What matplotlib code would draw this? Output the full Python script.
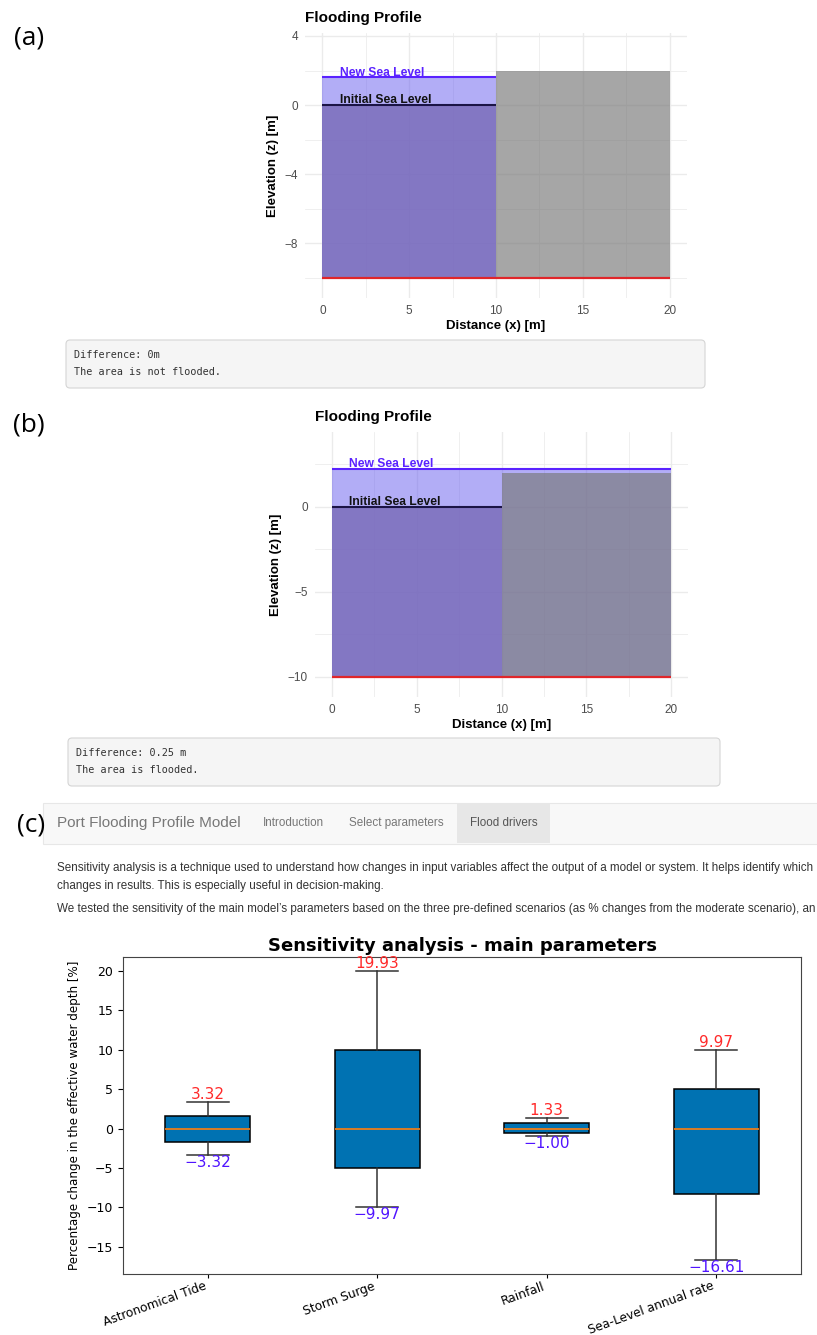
import matplotlib
matplotlib.use("Agg")
import matplotlib.pyplot as plt
from matplotlib.patches import Rectangle, FancyBboxPatch
from matplotlib.ticker import MultipleLocator

W, H = 817, 1335

# ---- Flooding profile geometry (m) ----
bed_level = -10.0
initial_sea_level = 0.0
quay_start, quay_end = 10.0, 20.0
quay_crest = 2.0
new_sea_level_a = 1.6
new_sea_level_b = 2.25
difference_a = "Difference: 0m"
status_a = "The area is not flooded."
difference_b = "Difference: 0.25 m"
status_b = "The area is flooded."

# ---- Sensitivity analysis (% change from moderate scenario) ----
parameters = ["Astronomical Tide", "Storm Surge", "Rainfall", "Sea-Level annual rate"]
tide_change = [-3.32, -1.66, 0.0, 1.66, 3.32]
surge_change = [-9.97, -4.98, 0.0, 9.97, 19.93]
rainfall_change = [-1.00, -0.50, 0.0, 0.67, 1.33]
slr_change = [-16.61, -8.30, 0.0, 4.98, 9.97]

nav_items = ["Introduction", "Select parameters", "Flood drivers"]
intro_lines = [
    "Sensitivity analysis is a technique used to understand how changes in input variables affect the output of a model or system. It helps identify which",
    "changes in results. This is especially useful in decision-making.",
    "We tested the sensitivity of the main model\u2019s parameters based on the three pre-defined scenarios (as % changes from the moderate scenario), an",
]

SANS = ["Liberation Sans", "DejaVu Sans"]

fig = plt.figure(figsize=(W / 100, H / 100), dpi=100)
fig.patch.set_facecolor("white")


def px_axes(l, t, r, b):
    return fig.add_axes([l / W, 1 - b / H, (r - l) / W, (b - t) / H])


def fx(x):
    return x / W


def fy(y):
    return 1 - y / H


def px_rect(l, t, r, b, **kw):
    """Rectangle given in pixel coordinates measured from the top-left corner."""
    if kw.pop("rounded", False):
        p = FancyBboxPatch((l / 100, (H - b) / 100), (r - l) / 100, (b - t) / 100,
                           boxstyle="round,pad=0,rounding_size=0.04",
                           transform=fig.dpi_scale_trans, **kw)
    else:
        p = Rectangle((l / 100, (H - b) / 100), (r - l) / 100, (b - t) / 100,
                      transform=fig.dpi_scale_trans, **kw)
    fig.patches.append(p)
    return p


LIGHT_WATER = (103 / 255, 93 / 255, 239 / 255)
DEEP_WATER = (120 / 255, 106 / 255, 183 / 255)
LAND = (120 / 255, 120 / 255, 120 / 255)
NEW_LINE = "#5a22ff"
INIT_LINE = "#1b1446"
BED_LINE = "#e0262a"


def flooding_profile(ax, new_level, ylim, ystep, title):
    flooded = new_level > quay_crest
    extent = quay_end if flooded else quay_start
    ax.add_patch(Rectangle((0, bed_level), extent, new_level - bed_level,
                           facecolor=LIGHT_WATER, alpha=0.5, lw=0, zorder=1))
    ax.add_patch(Rectangle((0, bed_level), quay_start, initial_sea_level - bed_level,
                           facecolor=DEEP_WATER, alpha=0.8, lw=0, zorder=2))
    ax.add_patch(Rectangle((quay_start, bed_level), quay_end - quay_start, quay_crest - bed_level,
                           facecolor=LAND, alpha=0.66, lw=0, zorder=3))
    ax.plot([0, extent], [new_level, new_level], color=NEW_LINE, lw=1.5, zorder=4,
            solid_capstyle="butt")
    ax.plot([0, quay_start], [initial_sea_level, initial_sea_level], color=INIT_LINE, lw=1.5,
            zorder=4, solid_capstyle="butt")
    ax.plot([0, quay_end], [bed_level, bed_level], color=BED_LINE, lw=1.6, zorder=4,
            solid_capstyle="butt")
    ax.text(1, new_level - 0.08, "New Sea Level", color=NEW_LINE, fontsize=8.7,
            fontweight="bold", family=SANS, va="bottom", ha="left", zorder=5)
    ax.text(1, initial_sea_level - 0.08, "Initial Sea Level", color="#111111", fontsize=8.7,
            fontweight="bold", family=SANS, va="bottom", ha="left", zorder=5)

    ax.set_xlim(-1, 21)
    ax.set_ylim(*ylim)
    ax.xaxis.set_major_locator(MultipleLocator(5))
    ax.xaxis.set_minor_locator(MultipleLocator(2.5))
    ax.yaxis.set_major_locator(MultipleLocator(ystep))
    ax.yaxis.set_minor_locator(MultipleLocator(ystep / 2))
    ax.grid(which="major", color="#ebebeb", lw=1.0, zorder=0)
    ax.grid(which="minor", color="#ebebeb", lw=0.55, zorder=0)
    ax.set_axisbelow(True)
    for s in ax.spines.values():
        s.set_visible(False)
    ax.tick_params(which="both", length=0, labelsize=8.5, labelcolor="#4d4d4d", pad=5)
    for lab in ax.get_xticklabels() + ax.get_yticklabels():
        lab.set_family(SANS)
    ax.set_xlabel("Distance (x) [m]", fontsize=9.5, fontweight="bold", family=SANS, labelpad=2)
    ax.set_ylabel("Elevation (z) [m]", fontsize=9.5, fontweight="bold", family=SANS, labelpad=4)
    ax.set_title(title, loc="left", fontsize=11, fontweight="bold", family=SANS,
                 x=0.0, pad=8)


# ---------------- Panel (a) ----------------
ax_a = px_axes(305, 33, 687, 298)
flooding_profile(ax_a, new_sea_level_a, (-11.16, 4.17), 4, "Flooding Profile")
ax_a.set_yticks([-8, -4, 0, 4])

px_rect(66, 340, 705, 388, rounded=True, facecolor="#f5f5f5", edgecolor="#d5d5d5", lw=0.8)
fig.text(fx(74), fy(355), difference_a, family="DejaVu Sans Mono", fontsize=7.3,
         color="#333333", va="center")
fig.text(fx(74), fy(372), status_a, family="DejaVu Sans Mono", fontsize=7.3,
         color="#333333", va="center")

# ---------------- Panel (b) ----------------
ax_b = px_axes(315, 432, 688, 697)
flooding_profile(ax_b, new_sea_level_b, (-11.18, 4.41), 5, "Flooding Profile")
ax_b.set_yticks([-10, -5, 0])

px_rect(68, 738, 720, 786, rounded=True, facecolor="#f5f5f5", edgecolor="#d5d5d5", lw=0.8)
fig.text(fx(76), fy(753), difference_b, family="DejaVu Sans Mono", fontsize=7.3,
         color="#333333", va="center")
fig.text(fx(76), fy(770), status_b, family="DejaVu Sans Mono", fontsize=7.3,
         color="#333333", va="center")

# ---------------- Panel (c): app page ----------------
px_rect(43, 803, 830, 844, facecolor="#f8f8f8", edgecolor="#e7e7e7", lw=0.8)
px_rect(457, 803, 550, 843, facecolor="#e7e7e7", edgecolor="none")
fig.text(fx(57), fy(823), "Port Flooding Profile Model", family=SANS, fontsize=11,
         color="#777777", va="center")
for x0, item in zip([263, 349, 470], nav_items):
    fig.text(fx(x0), fy(823), item, family=SANS, fontsize=8.4,
             color="#555555" if item == "Flood drivers" else "#777777", va="center")
for y0, line in zip([868, 886, 909], intro_lines):
    fig.text(fx(57), fy(y0), line, family=SANS, fontsize=8.4, color="#333333", va="center")

ax_c = px_axes(123, 957, 801, 1274)
series = [tide_change, surge_change, rainfall_change, slr_change]
bp = ax_c.boxplot(series, patch_artist=True, widths=0.5)
for box in bp["boxes"]:
    box.set(facecolor="#0072b2", edgecolor="black", linewidth=1.1)
for m in bp["medians"]:
    m.set(color="#ff7f0e", linewidth=1.2)
for w in bp["whiskers"] + bp["caps"]:
    w.set(color="#333333", linewidth=1.1)

for i, vals in enumerate(series, start=1):
    hi, lo = max(vals), min(vals)
    ax_c.text(i, hi, f"{hi:.2f}".replace("-", "\u2212"), ha="center", va="bottom",
              color="#ff2a2a", fontsize=11)
    ax_c.text(i, lo, f"{lo:.2f}".replace("-", "\u2212"), ha="center", va="top",
              color="#5014ff", fontsize=11)

ax_c.set_xticks(range(1, len(parameters) + 1), parameters, rotation=20, ha="right")
ax_c.tick_params(labelsize=9)
ax_c.tick_params(axis="x", labelsize=8.7, pad=1, length=3)
ax_c.set_ylabel("Percentage change in the effective water depth [%]", fontsize=8.6)
ax_c.set_title("Sensitivity analysis - main parameters", fontsize=13, fontweight="bold", pad=4)
for s in ax_c.spines.values():
    s.set_color("#444444")

# ---------------- Panel letters ----------------
for (x0, y0), letter in zip([(29, 38), (29, 425), (31, 825)], ["(a)", "(b)", "(c)"]):
    fig.text(fx(x0), fy(y0), letter, family=["Open Sans", "DejaVu Sans"], fontsize=19,
             ha="center", va="center", color="black")

fig.savefig("out.png", dpi=100)
